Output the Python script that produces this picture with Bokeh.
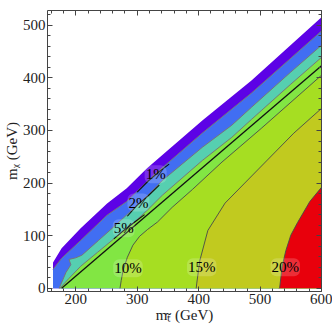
from bokeh.plotting import figure
from bokeh.models import Range1d, LinearAxis, SingleIntervalTicker, ColumnDataSource
from bokeh.embed import file_html
from bokeh.resources import INLINE
from bokeh.core.properties import value

# ---------------- data ----------------
# upper edge of the allowed region (m_stop, m_chi)
edge_x = [163, 163, 177, 208, 251, 283, 316, 406, 486, 600]
edge_y = [0, 49, 76, 114, 161, 190, 228, 319, 395, 515]

# contour boundaries (efficiency %), from the left/bottom edge to the right edge
c1_x = [163, 177, 208, 251, 283, 325, 406, 486, 600]
c1_y = [36, 57, 91, 139, 165, 213, 295, 371, 489]
c2_x = [173, 184, 192, 189, 200, 210, 237, 263, 288, 316, 341, 406, 454, 486, 550, 600]
c2_y = [0, 30, 45, 55, 58, 63, 91, 118, 145, 175, 205, 268, 310, 344, 411, 462]
c5_x = [174, 189, 208, 235, 263, 280, 288, 316, 341, 406, 454, 486, 550, 600]
c5_y = [0, 19, 42, 68, 95, 112, 118, 148, 177, 243, 287, 321, 388, 439]
c10_x = [272, 274, 277, 284, 293, 304, 317, 333, 357, 390, 438, 502, 600]
c10_y = [0, 15, 34, 59, 82, 99, 112, 126, 154, 188, 240, 304, 405]
c15_x = [396, 397, 402, 415, 443, 475, 507, 555, 600]
c15_y = [0, 10, 53, 110, 162, 200, 238, 295, 342]
c20_x = [531, 532, 536, 542, 550, 561, 581, 600]
c20_y = [0, 2, 42, 72, 101, 125, 165, 192]

# labelled (black) pieces of the 1%, 2%, 5% contours near their labels
k1_x = [300, 318, 336, 352]
k1_y = [183, 204, 222, 236]
k2_x = [284, 300, 318, 336]
k2_y = [137, 158, 176, 196]
k5_x = [262, 278, 296, 312]
k5_y = [94, 110, 126, 140]

# kinematic line m_stop = m_top + m_chi
kin_x = [177, 600]
kin_y = [0, 423]

band_colors = ["#5c02e6", "#416ef2", "#56cfb0", "#82e643", "#a6de22", "#c1ca1f", "#e8000c"]

label_text = ["1%", "2%", "5%", "10%", "15%", "20%"]
label_x = [330, 302, 278, 285, 405, 541]
label_y = [217, 163, 114, 38, 40, 40]

x_title = "m\u209c\u0303 (GeV)"
y_title = "m\u1d6a (GeV)"

FONT = "Liberation Serif"

# ---------------- figure ----------------
p = figure(width=332, height=326, x_range=Range1d(154, 600), y_range=Range1d(-6, 528),
           output_backend="svg", toolbar_location=None,
           x_axis_location=None, y_axis_location=None,
           min_border_left=43, min_border_right=11, min_border_top=10, min_border_bottom=35)
p.grid.visible = False
p.outline_line_color = None
p.background_fill_color = "white"
p.border_fill_color = "white"

def region(xs, ys):
    # area below/right of a boundary curve, closed through the bottom-right corner
    return list(xs) + [600, xs[0]], list(ys) + [0, 0]

curves = [(edge_x, edge_y), (c1_x, c1_y), (c2_x, c2_y), (c5_x, c5_y),
          (c10_x, c10_y), (c15_x, c15_y), (c20_x, c20_y)]
for (cx, cy), col in zip(curves, band_colors):
    rx, ry = region(cx, cy)
    p.patch(rx, ry, fill_color=col, line_color=None)

for cx, cy in curves[1:4]:
    p.line(cx, cy, line_color="#777777", line_width=1)
for cx, cy in curves[4:]:
    p.line(cx, cy, line_color="#4a4a4a", line_width=0.9)
for kx, ky in [(k1_x, k1_y), (k2_x, k2_y), (k5_x, k5_y)]:
    p.line(kx, ky, line_color="#111111", line_width=1.1)
p.line(kin_x, kin_y, line_color="#111111", line_width=1.3)

src_lab = ColumnDataSource(dict(x=label_x, y=label_y, t=label_text))
p.text(x="x", y="y", text="t", source=src_lab, text_font=value(FONT), text_font_size="15px",
       text_align="center", text_baseline="middle", text_color="black",
       background_fill_color="white", background_fill_alpha=0.18, padding=1, border_radius=6)

# ---------------- frame axes ----------------
def mk_axis(labels, title=None):
    ax = LinearAxis(ticker=SingleIntervalTicker(interval=100, num_minor_ticks=5))
    ax.major_tick_in = 5
    ax.major_tick_out = 0
    ax.minor_tick_in = 3
    ax.minor_tick_out = 0
    ax.axis_line_color = "#444444"
    ax.major_tick_line_color = "#444444"
    ax.minor_tick_line_color = "#444444"
    ax.major_label_text_font = FONT
    if labels:
        ax.major_label_text_font_size = "15px"
        ax.major_label_text_color = "#222222"
        ax.major_label_standoff = 2
    else:
        ax.major_label_text_font_size = "0px"
        ax.major_label_text_alpha = 0
        ax.major_label_standoff = 0
    if title:
        ax.axis_label = title
        ax.axis_label_text_font = FONT
        ax.axis_label_text_font_size = "15px"
        ax.axis_label_text_font_style = "normal"
        ax.axis_label_text_color = "#222222"
        ax.axis_label_standoff = 0
    return ax

p.add_layout(mk_axis(True, x_title), "below")
p.add_layout(mk_axis(True, y_title), "left")
p.add_layout(mk_axis(False), "above")
p.add_layout(mk_axis(False), "right")

open("out.html", "w").write(file_html(p, INLINE))
